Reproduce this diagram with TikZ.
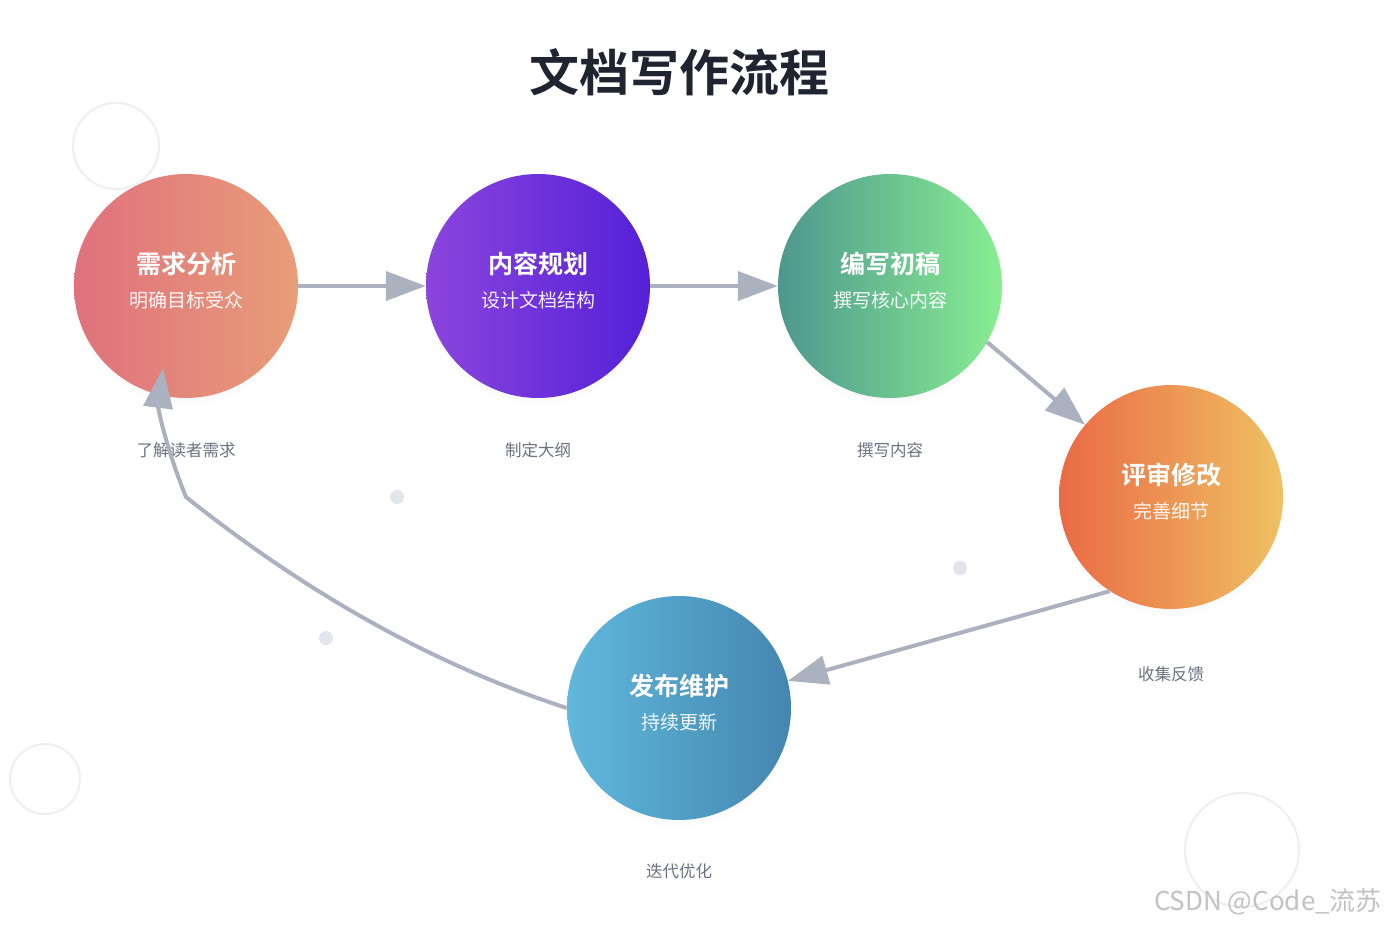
\documentclass[tikz,border=0pt]{standalone}
\usepackage{fontspec}
\setmainfont{Noto Sans CJK SC}[BoldFont={Noto Sans CJK SC Bold}]
\usetikzlibrary{arrows.meta,calc,shadows}

\definecolor{titelfarbe}{HTML}{1F2430}
\definecolor{pfeilgrau}{HTML}{ABB1BE}
\definecolor{textgrau}{HTML}{6B7280}
\definecolor{deko}{HTML}{EDEFF3}
\definecolor{punkt}{HTML}{E2E6EC}
\definecolor{roseL}{HTML}{E0717D}
\definecolor{roseR}{HTML}{E89D78}
\definecolor{lilaL}{HTML}{8B45DD}
\definecolor{lilaR}{HTML}{5420D8}
\definecolor{gruenL}{HTML}{4E978F}
\definecolor{gruenR}{HTML}{88EE91}
\definecolor{orangeL}{HTML}{EA6A45}
\definecolor{orangeR}{HTML}{EFC162}
\definecolor{blauL}{HTML}{60B8DC}
\definecolor{blauR}{HTML}{4486B0}

\tikzset{
  stage/.style={circle, minimum size=224pt, inner sep=0pt,
    circular drop shadow={shadow xshift=0pt, shadow yshift=-5pt,
      shadow scale=1.03, opacity=.07}},
  stitle/.style={text=white, font=\bfseries\fontsize{25}{30}\selectfont},
  ssub/.style={text=white, text opacity=.92, font=\fontsize{19}{23}\selectfont},
  note/.style={text=textgrau, font=\fontsize{16.5}{20}\selectfont},
  flow/.style={draw=pfeilgrau, line width=4pt,
    -{Triangle[length=40pt,width=29pt]}},
  ring/.style={draw=deko, line width=2pt},
  dot/.style={fill=punkt}
}

\begin{document}
\begin{tikzpicture}[x=1pt,y=-1pt]

\useasboundingbox[fill=white] (0,0) rectangle (1386,925);

% Dekoration
\draw[ring] (116,146) circle (43);
\draw[ring] (45,779) circle (35);
\draw[ring] (1242,850) circle (57);
\fill[dot] (397,497) circle (7);
\fill[dot] (960,568) circle (7);
\fill[dot] (326,638) circle (7);

% Titel
\node[text=titelfarbe, font=\bfseries\fontsize{50}{60}\selectfont] (titel) at (679,72) {文档写作流程};

% Stationen
\node[stage, left color=roseL, right color=roseR] (c1) at (186,286) {};
\node[stage, left color=lilaL, right color=lilaR] (c2) at (538,286) {};
\node[stage, left color=gruenL, right color=gruenR] (c3) at (890,286) {};
\node[stage, left color=orangeL, right color=orangeR] (c4) at (1171,497) {};
\node[stage, left color=blauL, right color=blauR] (c5) at (679,708) {};

\node[stitle] (t1) at ($(c1.center)+(0,-22)$) {需求分析};
\node[ssub]   (s1) at ($(c1.center)+(0,14)$) {明确目标受众};
\node[stitle] (t2) at ($(c2.center)+(0,-22)$) {内容规划};
\node[ssub]   (s2) at ($(c2.center)+(0,14)$) {设计文档结构};
\node[stitle] (t3) at ($(c3.center)+(0,-22)$) {编写初稿};
\node[ssub]   (s3) at ($(c3.center)+(0,14)$) {撰写核心内容};
\node[stitle] (t4) at ($(c4.center)+(0,-22)$) {评审修改};
\node[ssub]   (s4) at ($(c4.center)+(0,14)$) {完善细节};
\node[stitle] (t5) at ($(c5.center)+(0,-22)$) {发布维护};
\node[ssub]   (s5) at ($(c5.center)+(0,14)$) {持续更新};

% Beschriftungen unten
\node[note] (l1) at (186,450) {了解读者需求};
\node[note] (l2) at (538,450) {制定大纲};
\node[note] (l3) at (890,450) {撰写内容};
\node[note] (l4) at (1171,674) {收集反馈};
\node[note] (l5) at (679,871) {迭代优化};

% Pfeile
\draw[flow] (c1) -- (c2);
\draw[flow] (c2) -- (c3);
\draw[flow] (c3.-30) -- (c4.140);
\draw[flow] (c4.237) -- (c5.14);
\draw[flow] (c5.west) .. controls (437,666) and (310,596) .. (186,497)
  .. controls (166,448) and (158,408) .. (163,368);

% Wasserzeichen
\node[text=black!24, font=\fontsize{26}{30}\selectfont] (wz) at (1268,902) {CSDN @Code\_流苏};

\end{tikzpicture}
\end{document}
